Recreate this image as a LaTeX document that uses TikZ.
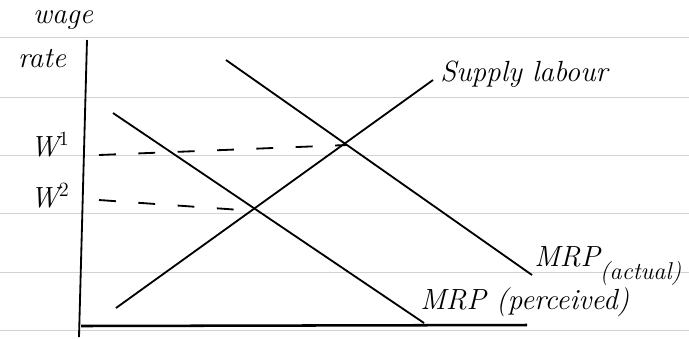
\documentclass[tikz,border=0pt]{standalone}
\usepackage{tikz}
\begin{document}
\begin{tikzpicture}[
  x=0.025cm, y=-0.025cm,
  ruled/.style={draw=gray!35, line width=0.6pt},
  curve/.style={draw=black, line width=1.3pt},
  guide/.style={draw=black, line width=1.3pt, dash pattern=on 12pt off 16pt},
  hand/.style={font=\huge\itshape, inner sep=0pt},
]
\useasboundingbox (0,0) rectangle (689,338);
% ruled paper
\foreach \y in {37,97,155,213,272,330}
  \draw[ruled] (0,\y) -- (689,\y);
% axes
\coordinate (ytop) at (87,40);
\coordinate (ybot) at (79,337);
\coordinate (xleft) at (81,326);
\coordinate (xright) at (527,325);
\draw[curve] (ytop) -- (ybot);
\draw[curve, line width=1.8pt] (xleft) -- (xright);
\node[hand] (wage) at (63,20) {wage};
\node[hand] (rate) at (42,59) {rate};
% lines
\coordinate (sup0) at (116,308);
\coordinate (sup1) at (433,80);
\coordinate (act0) at (226,60);
\coordinate (act1) at (532,275);
\coordinate (per0) at (113,113);
\coordinate (per1) at (424,323);
\draw[curve] (sup0) -- (sup1);
\draw[curve] (act0) -- (act1);
\draw[curve] (per0) -- (per1);
\node[hand, anchor=west] (supply) at (440,74) {Supply labour};
\node[hand, anchor=west] (mrpact) at (534,266) {MRP\raisebox{-1.1ex}{\LARGE(actual)}};
\node[hand, anchor=west] (mrpper) at (420,302) {MRP (perceived)};
% wage levels
\coordinate (eq1) at (347,145);
\coordinate (eq2) at (255,211);
\coordinate (w1start) at (99,155);
\coordinate (w2start) at (99,200);
\draw[guide] (w1start) -- (eq1);
\draw[guide] (w2start) -- (eq2);
\node[hand] (w1) at (50,145) {W$^1$};
\node[hand] (w2) at (50,196) {W$^2$};
\end{tikzpicture}
\end{document}
